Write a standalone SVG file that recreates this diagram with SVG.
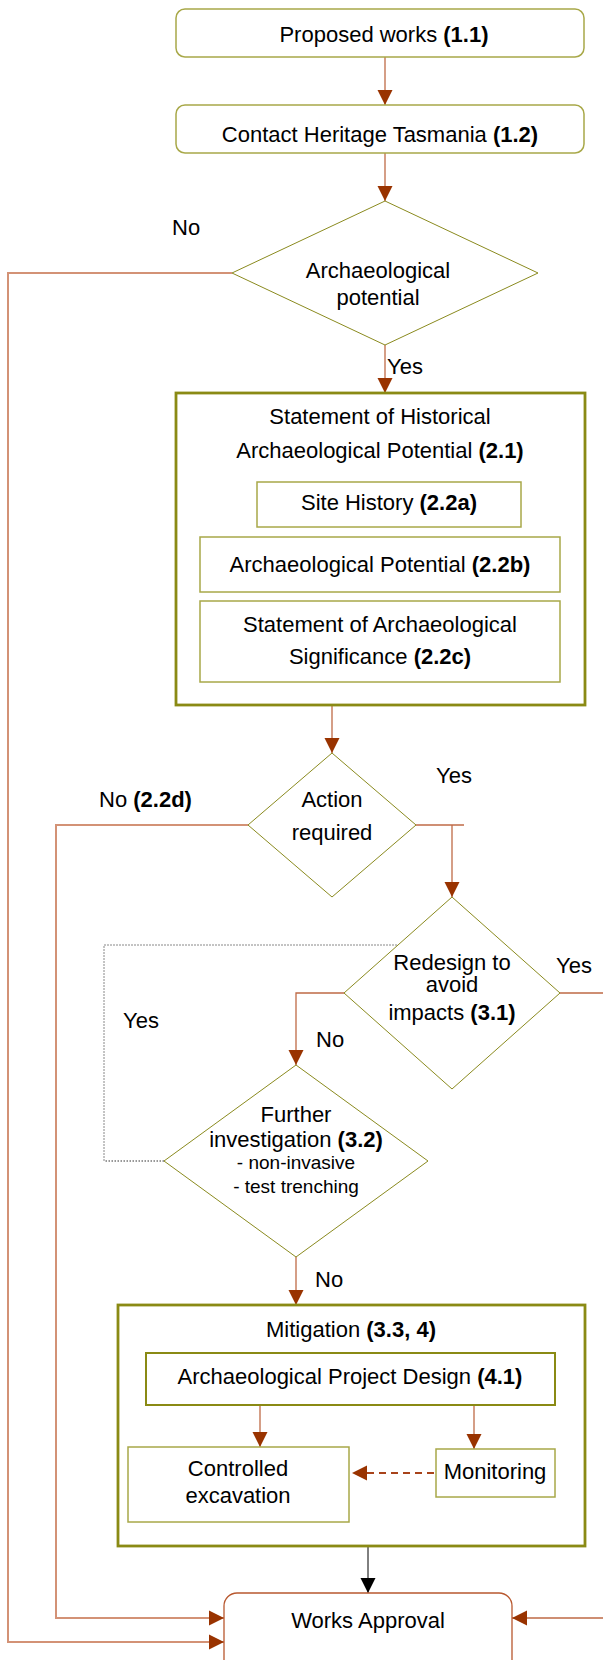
<svg xmlns="http://www.w3.org/2000/svg" width="603" height="1660" viewBox="0 0 603 1660">
<defs>
<style>
text{font-family:"Liberation Sans",Arial,sans-serif;font-size:22px;fill:#000;text-anchor:middle}
.l{text-anchor:start}
.s{font-size:19px}
.b{font-weight:bold}
.term{fill:#fff;stroke:#a8a848;stroke-width:1.5}
.box{fill:#fff;stroke:#a8a848;stroke-width:1.5}
.big{fill:none;stroke:#8a8a14;stroke-width:2.8}
.apd{fill:#fff;stroke:#8a8a14;stroke-width:2}
.dia{fill:#fff;stroke:#8a8a1e;stroke-width:1}
.c{fill:none;stroke:#bf6a46;stroke-width:1.3}
.cl{fill:none;stroke:#d39276;stroke-width:2}
</style>
<marker id="ah" viewBox="0 0 16 16" refX="15" refY="8" markerWidth="16" markerHeight="16" markerUnits="userSpaceOnUse" orient="auto"><path d="M0,0.5 L15,8 L0,15.5 Z" fill="#993300"/></marker>
<marker id="ahk" viewBox="0 0 16 16" refX="15" refY="8" markerWidth="16" markerHeight="16" markerUnits="userSpaceOnUse" orient="auto"><path d="M0,0.5 L15,8 L0,15.5 Z" fill="#000"/></marker>
</defs>
<rect width="603" height="1660" fill="#fff"/>

<g id="connectors">
<path class="c" d="M385,57 V105" marker-end="url(#ah)"/>
<path class="c" d="M385,153 V201" marker-end="url(#ah)"/>
<path class="cl" d="M232,273 H8 V1642 H224" marker-end="url(#ah)"/>
<path class="c" d="M385,345 V393" marker-end="url(#ah)"/>
<path class="c" d="M332,706 V753" marker-end="url(#ah)"/>
<path class="cl" d="M248,825 H56 V1618 H224" marker-end="url(#ah)"/>
<path class="c" d="M416,825 H464"/>
<path class="c" d="M452,825 V897" marker-end="url(#ah)"/>
<path class="c" d="M344,993 H296 V1065" marker-end="url(#ah)"/>
<path class="c" d="M560,993 H620 V1618 H512" marker-end="url(#ah)"/>
<path fill="none" stroke="#888" stroke-width="1" stroke-dasharray="2,1" d="M104,1161 V945 H398"/>
<path fill="none" stroke="#333" stroke-width="1.2" stroke-dasharray="1.5,1.5" d="M164,1161 H104"/>
<path class="c" d="M296,1257 V1305" marker-end="url(#ah)"/>
<path class="c" d="M260,1405 V1447" marker-end="url(#ah)"/>
<path class="c" d="M474,1405 V1449" marker-end="url(#ah)"/>
<path fill="none" stroke="#a8431a" stroke-width="2" stroke-dasharray="7,5" d="M434,1473 H352" marker-end="url(#ah)"/>
<path fill="none" stroke="#000" stroke-width="1" d="M368,1547 V1593" marker-end="url(#ahk)"/>
</g>

<g id="labels">
<text class="l" x="172" y="235">No</text>
<text class="l" x="387" y="374">Yes</text>
<text class="l" x="99" y="807">No <tspan class="b">(2.2d)</tspan></text>
<text class="l" x="436" y="783">Yes</text>
<text class="l" x="556" y="973">Yes</text>
<text class="l" x="123" y="1028">Yes</text>
<text class="l" x="316" y="1047">No</text>
<text class="l" x="315" y="1287">No</text>
</g>

<g id="n1">
<rect class="term" x="176" y="9" width="408" height="48" rx="9"/>
<text x="384" y="42">Proposed works <tspan class="b">(1.1)</tspan></text>
</g>
<g id="n2">
<rect class="term" x="176" y="105" width="408" height="48" rx="9"/>
<text x="380" y="142">Contact Heritage Tasmania <tspan class="b">(1.2)</tspan></text>
</g>
<g id="d1">
<path class="dia" d="M385,201 L538,273 L385,345 L232,273 Z"/>
<text x="378" y="278">Archaeological</text>
<text x="378" y="305">potential</text>
</g>
<g id="n3">
<rect class="big" x="176" y="393" width="409" height="312"/>
<text x="380" y="424">Statement of Historical</text>
<text x="380" y="458">Archaeological Potential <tspan class="b">(2.1)</tspan></text>
</g>
<g id="n3a">
<rect class="box" x="257" y="482" width="264" height="45"/>
<text x="389" y="510">Site History <tspan class="b">(2.2a)</tspan></text>
</g>
<g id="n3b">
<rect class="box" x="200" y="537" width="360" height="55"/>
<text x="380" y="572">Archaeological Potential <tspan class="b">(2.2b)</tspan></text>
</g>
<g id="n3c">
<rect class="box" x="200" y="601" width="360" height="81"/>
<text x="380" y="632">Statement of Archaeological</text>
<text x="380" y="664">Significance <tspan class="b">(2.2c)</tspan></text>
</g>
<g id="d2">
<path class="dia" d="M332,753 L416,825 L332,897 L248,825 Z"/>
<text x="332" y="807">Action</text>
<text x="332" y="840">required</text>
</g>
<g id="d3">
<path class="dia" d="M452,897 L560,993 L452,1089 L344,993 Z"/>
<text x="452" y="970">Redesign to</text>
<text x="452" y="992">avoid</text>
<text x="452" y="1020">impacts <tspan class="b">(3.1)</tspan></text>
</g>
<g id="d4">
<path class="dia" d="M296,1065 L428,1161 L296,1257 L164,1161 Z"/>
<text x="296" y="1122">Further</text>
<text x="296" y="1147">investigation <tspan class="b">(3.2)</tspan></text>
<text class="s" x="296" y="1169">- non-invasive</text>
<text class="s" x="296" y="1193">- test trenching</text>
</g>
<g id="n4">
<rect class="big" x="118" y="1305" width="467" height="241"/>
<text x="351" y="1337">Mitigation <tspan class="b">(3.3, 4)</tspan></text>
</g>
<g id="n4a">
<rect class="apd" x="146" y="1353" width="409" height="52"/>
<text x="350" y="1384">Archaeological Project Design <tspan class="b">(4.1)</tspan></text>
</g>
<g id="n4b">
<rect class="box" x="128" y="1447" width="221" height="75"/>
<text x="238" y="1476">Controlled</text>
<text x="238" y="1503">excavation</text>
</g>
<g id="n4c">
<rect class="box" x="436" y="1449" width="119" height="48"/>
<text x="495" y="1479">Monitoring</text>
</g>
<g id="n5">
<rect x="224" y="1593" width="288" height="110" rx="13" fill="#fff" stroke="#b8582f" stroke-width="1.3"/>
<text x="368" y="1628">Works Approval</text>
</g>
</svg>
